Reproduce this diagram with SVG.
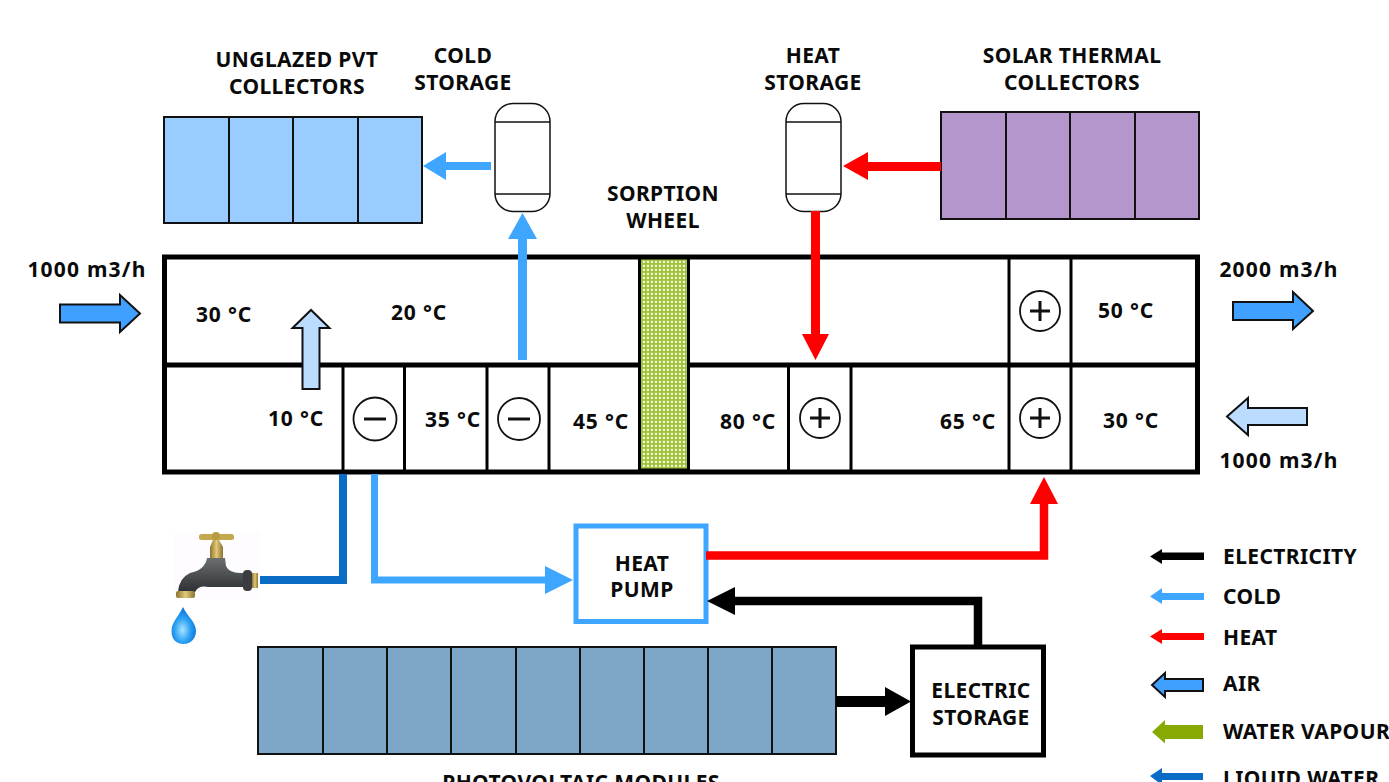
<svg xmlns="http://www.w3.org/2000/svg" width="1389" height="782" viewBox="0 0 1389 782">
<style>
text{font-family:"Noto Sans","Liberation Sans",sans-serif;font-weight:700;font-size:21px;letter-spacing:.4px;fill:#0a0a0a;text-anchor:middle}
.num{letter-spacing:.8px}
.flow{letter-spacing:1.2px}
.lg{text-anchor:start}
.panel{stroke:#111;stroke-width:2}
.duct{fill:none;stroke:#000;stroke-width:5}
.div{fill:none;stroke:#000;stroke-width:3}
.tank{fill:#fff;stroke:#111;stroke-width:1.5}
.sign{fill:#fff;stroke:#111;stroke-width:1.8}
.mark{fill:none;stroke:#111;stroke-width:3}
.air{stroke:#111;stroke-width:2}
.pipe{fill:none;stroke-width:7}
.pipe2{fill:none;stroke-width:8.500}
</style>
<defs>
<pattern id="mesh" width="4" height="4" patternUnits="userSpaceOnUse" x="641" y="259">
<rect width="4" height="4" fill="#f0f6d8"/>
<rect width="4" height="1.800" fill="#9fc238"/>
<rect width="1.800" height="4" fill="#9fc238"/>
</pattern>
<radialGradient id="drop" cx="0.45" cy="0.62" r="0.6">
<stop offset="0" stop-color="#a8e4ff"/><stop offset="0.55" stop-color="#2aa0f4"/><stop offset="1" stop-color="#0a6fd8"/>
</radialGradient>
<linearGradient id="iron" x1="0" y1="0" x2="0" y2="1">
<stop offset="0" stop-color="#6b6f72"/><stop offset="1" stop-color="#2e3033"/>
</linearGradient>
<linearGradient id="brass" x1="0" y1="0" x2="1" y2="0">
<stop offset="0" stop-color="#8c7430"/><stop offset="0.5" stop-color="#e2c878"/><stop offset="1" stop-color="#8c7430"/>
</linearGradient>
</defs>

<g id="duct-unit">
<rect x="165" y="257" width="1033" height="215" fill="#fff" stroke="none"/>
<path class="duct" d="M164 365H1198"/>
<path class="div" d="M343 365V472M404.500 365V472M487 365V472M549 365V472M788.500 365V472M851 365V472M1009 257V472M1071 257V472"/>
<rect class="duct" x="164.500" y="257" width="1033" height="215"/>
<rect id="sorption-wheel" x="639.500" y="258" width="49" height="212" fill="url(#mesh)" stroke="#000" stroke-width="3"/>
</g>

<g id="pvt-collectors">
<rect class="panel" x="164" y="117" width="258" height="106" fill="#99ccff"/>
<path class="panel" fill="none" d="M229 117V223M293 117V223M358 117V223"/>
<text x="297" y="67">UNGLAZED PVT</text><text x="297" y="94">COLLECTORS</text>
</g>
<g id="cold-storage">
<rect class="tank" x="495" y="103.500" width="55" height="108" rx="18"/>
<path class="tank" d="M495 122H550M495 194H550"/>
<text x="463" y="63">COLD</text><text x="463" y="90">STORAGE</text>
</g>
<g id="heat-storage">
<rect class="tank" x="786" y="103.500" width="55" height="108" rx="18"/>
<path class="tank" d="M786 122H841M786 194H841"/>
<text x="813" y="63">HEAT</text><text x="813" y="90">STORAGE</text>
</g>
<g id="solar-thermal">
<rect class="panel" x="941" y="112" width="258" height="107" fill="#b495cc"/>
<path class="panel" fill="none" d="M1006 112V219M1070 112V219M1135 112V219"/>
<text x="1072" y="63">SOLAR THERMAL</text><text x="1072" y="90">COLLECTORS</text>
</g>
<g id="wheel-label"><text x="663" y="201">SORPTION</text><text x="663" y="228">WHEEL</text></g>

<g id="exchangers">
<circle class="sign" cx="1040" cy="311" r="20"/><path class="mark" d="M1030 311H1050M1040 301V321"/>
<circle class="sign" cx="375" cy="419" r="21.500"/><path class="mark" d="M364 419H386"/>
<circle class="sign" cx="519" cy="419" r="21"/><path class="mark" d="M508 419H530"/>
<circle class="sign" cx="820" cy="418" r="20"/><path class="mark" d="M810 418H830M820 408V428"/>
<circle class="sign" cx="1040" cy="418" r="20"/><path class="mark" d="M1030 418H1050M1040 408V428"/>
</g>

<g id="temperatures">
<text class="num" x="224" y="322">30 °C</text><text class="num" x="419" y="320">20 °C</text>
<text class="num" x="296" y="426">10 °C</text><text class="num" x="453" y="427">35 °C</text><text class="num" x="601" y="429">45 °C</text>
<text class="num" x="748" y="429">80 °C</text><text class="num" x="968" y="429">65 °C</text><text class="num" x="1131" y="428">30 °C</text>
<text class="num" x="1126" y="318">50 °C</text>
</g>

<g id="flow-labels">
<text class="flow" x="87" y="277">1000 m3/h</text><text class="flow" x="1279" y="277">2000 m3/h</text><text class="flow" x="1279" y="468">1000 m3/h</text>
</g>

<g id="heat-pump">
<rect x="576" y="526" width="130" height="95.500" fill="#fff" stroke="#3fa6ff" stroke-width="5"/>
<text x="642" y="571">HEAT</text><text x="642" y="597">PUMP</text>
</g>
<g id="electric-storage">
<rect x="912.500" y="647" width="131" height="108" fill="#fff" stroke="#000" stroke-width="5"/>
<text x="981" y="698">ELECTRIC</text><text x="981" y="725">STORAGE</text>
</g>
<g id="pv-modules">
<rect class="panel" x="258" y="647" width="578" height="107" fill="#7ea6c8"/>
<path class="panel" fill="none" d="M323 647V754M387 647V754M451 647V754M516 647V754M580 647V754M644 647V754M708 647V754M772 647V754"/>
<text x="581" y="790">PHOTOVOLTAIC MODULES</text>
</g>

<g id="connectors">
<path class="air" fill="#3fa0ff" d="M60 304.500H120V295L140 313.500L120 332V322.500H60Z"/>
<path class="air" fill="#3fa0ff" d="M1233 302H1293V292L1313 311L1293 329V320H1233Z"/>
<path class="air" fill="#bbdcff" d="M1307 408H1248V398L1227 416.500L1248 435V425H1307Z"/>
<path class="air" fill="#bbdcff" d="M302.500 389V328H292.500L311 310L329.500 328H319.500V389Z"/>
<g fill="#3fa6ff">
<path d="M491 162V170H446V180L423 166L446 152V162Z"/>
<path d="M518 360V239H508L522.500 213L537 239H527V360Z"/>
</g>
<g fill="#ff0000">
<path d="M941 162V171H868V180L843 166L868 152V162Z"/>
<path d="M811 211H820V334H829L815.500 360L802 334H811Z"/>
</g>
<path fill="none" stroke="#0a6cc4" stroke-width="8" d="M258 580H343V474"/>
<path class="pipe" stroke="#3fa6ff" d="M374.500 474V580H547"/>
<path fill="#3fa6ff" d="M545 566L573 580L545 594Z"/>
<path class="pipe2" stroke="#ff0000" d="M706 555.500H1044V502"/>
<path fill="#ff0000" d="M1030 504L1044 477L1058 504Z"/>
<path class="pipe2" stroke="#000" d="M978 646V601H734"/>
<path fill="#000" d="M735 587L707 601L735 615Z"/>
<path d="M836 696H885V687L911 701.500L885 716V707H836Z"/>
</g>

<g id="faucet">
<rect x="174" y="532" width="86" height="68" fill="#fefcfe"/>
<rect x="199" y="534" width="35" height="6" rx="2.500" fill="#c4a84e"/>
<circle cx="216" cy="536" r="4" fill="#b89a40"/>
<path d="M213 540H219L223 547V558H210V547Z" fill="url(#brass)"/>
<path d="M207 558H225L226 566Q229 573 240 573H246V587H208Q199 585 195 592H178Q179 578 190 573Q205 570 207 558Z" fill="url(#iron)"/>
<rect x="243" y="570" width="9" height="21" rx="4" fill="#3a3c3f"/>
<rect x="252" y="573" width="6" height="15" fill="url(#brass)"/>
<rect x="176" y="591" width="19" height="7" rx="2" fill="url(#brass)"/>
<path d="M183 607C179 616 171.500 622 171.500 631C171.500 639 176 644 183.500 644C191 644 196 638 196 631C196 622 187 616 183 607Z" fill="url(#drop)"/>
</g>

<g id="legend">
<path d="M1204 552.500V560H1162V564L1150 556.500L1162 549V552.500Z" fill="#000"/>
<path d="M1204 593V600H1162V604L1150 596.500L1162 588V593Z" fill="#3fa6ff"/>
<path d="M1204 633V640H1162V644L1150 636.500L1162 629V633Z" fill="#ff0000"/>
<path class="air" fill="#3fa0ff" d="M1203 679V691H1165V697L1152 685L1165 673V679Z"/>
<path d="M1203 725V739H1165V743.500L1152 732L1165 720V725Z" fill="#88aa00"/>
<path d="M1203 773V780H1162V785L1150 776L1162 768V773Z" fill="#0a6cc4"/>
<text class="lg" x="1223" y="564">ELECTRICITY</text>
<text class="lg" x="1223" y="604">COLD</text>
<text class="lg" x="1223" y="645">HEAT</text>
<text class="lg" x="1223" y="691">AIR</text>
<text class="lg" x="1223" y="739">WATER VAPOUR</text>
<text class="lg" x="1223" y="786">LIQUID WATER</text>
</g>
</svg>
